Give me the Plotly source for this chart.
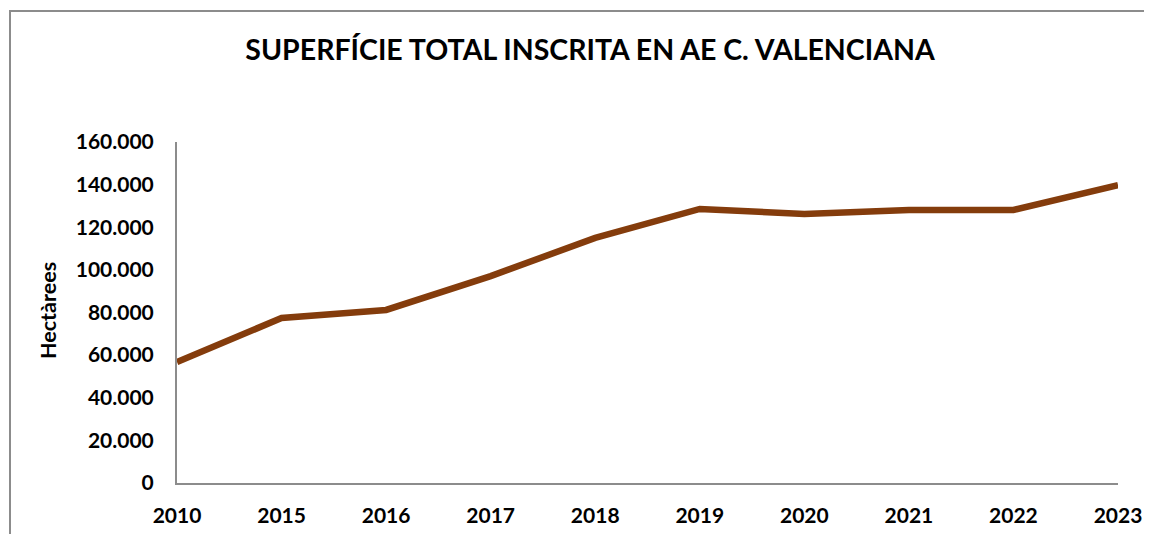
import plotly.graph_objects as go

years = ["2010", "2015", "2016", "2017", "2018", "2019", "2020", "2021", "2022", "2023"]
hectares = [56800, 77400, 81200, 97100, 115000, 128600, 126200, 128100, 128100, 139800]
y_ticks = [0, 20000, 40000, 60000, 80000, 100000, 120000, 140000, 160000]

W, H = 1152, 534
OFF = 8  # page body margin offset
# desired plot area in page pixels: x 177..1118, y 142..483
ML = 177 - OFF
MT = 142 - OFF
MR = W - (1118 - OFF)
MB = H - (483 - OFF)
PW = W - ML - MR
PH = H - MT - MB

fig = go.Figure()
fig.add_trace(go.Scatter(
    x=years, y=hectares, mode="lines",
    line=dict(color="#843C0C", width=6.5),
    hoverinfo="x+y",
))

font_family = "Lato"
fig.update_layout(
    width=W, height=H,
    margin=dict(l=ML, r=MR, t=MT, b=MB, autoexpand=False),
    paper_bgcolor="white", plot_bgcolor="white",
    separators=",.",
    showlegend=False,
    title=dict(
        text="SUPERFÍCIE TOTAL INSCRITA EN AE C. VALENCIANA",
        font=dict(family=font_family, size=28.5, color="black", weight="bold"),
        x=(590 - OFF) / W, xanchor="center", xref="container",
        y=1 - (50 - OFF) / H, yanchor="middle", yref="container",
        automargin=False,
    ),
    xaxis=dict(
        type="category", range=[0, 9], automargin=False,
        showgrid=False, zeroline=False,
        showline=True, linecolor="#8c8c8c", linewidth=2,
        ticks="", ticklabelstandoff=13,
        tickfont=dict(family=font_family, size=21, color="black", weight="bold"),
    ),
    yaxis=dict(
        range=[0, 160000], tickvals=y_ticks, tickformat=",.0f", automargin=False,
        showgrid=False, zeroline=False,
        showline=True, linecolor="#8c8c8c", linewidth=2,
        ticks="", ticklabelstandoff=17,
        tickfont=dict(family=font_family, size=21, color="black", weight="bold"),
    ),
    annotations=[dict(
        text="Hectàrees", textangle=-90,
        xref="paper", yref="paper",
        x=(48 - 177) / PW, y=(483 - 311) / PH, xanchor="center", yanchor="middle",
        showarrow=False,
        font=dict(family=font_family, size=21.5, color="black", weight="bold"),
    )],
    shapes=[dict(
        type="rect", xref="paper", yref="paper",
        x0=(10 - 177) / PW, x1=(W + 60 - 177) / PW,
        y0=(483 - 11) / PH, y1=-(80) / PH,
        line=dict(color="#8c8c8c", width=2), fillcolor="rgba(0,0,0,0)",
        layer="below",
    )],
)

fig.write_html("out.html")
